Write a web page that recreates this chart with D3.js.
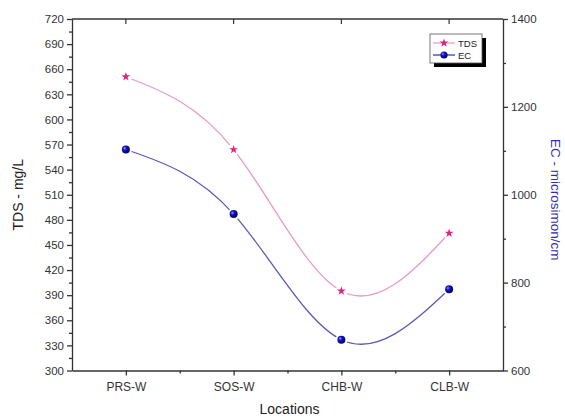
<!DOCTYPE html>
<html>
  <head>
    <script src="https://d3js.org/d3.v7.min.js"></script>
    <style>
      html,
      body {
        margin: 0;
        padding: 0;
        background: #fff;
        font-family: "Liberation Sans", Arial, sans-serif;
      }
    </style>
  </head>
  <body>
    <div id="chart"></div>
    <script>
      // values
      const locations = ["PRS-W", "SOS-W", "CHB-W", "CLB-W"];
      const tds = [651, 564, 395, 464];
      const ec = [1103, 956, 670, 785];
      const tdsTicks = d3.range(300, 721, 30);
      const ecTicks = [600, 800, 1000, 1200, 1400];

      const width = 565;
      const height = 420;
      const plotLeft = 72;
      const plotRight = 503;
      const plotTop = 19;
      const plotBottom = 370.5;
      const axisColor = "#333";
      const tdsLine = "#e99ac6";
      const tdsMark = "#e0207c";
      const ecLine = "#5a5ab8";
      const ecMark = "#1414cc";

      const svg = d3
        .select("#chart")
        .append("svg")
        .attr("width", width)
        .attr("height", height);

      const defs = svg.append("defs");
      const grad = defs
        .append("radialGradient")
        .attr("id", "ball")
        .attr("cx", "35%")
        .attr("cy", "35%")
        .attr("r", "65%");
      grad.append("stop").attr("offset", "0%").attr("stop-color", "#9aa0ff");
      grad.append("stop").attr("offset", "35%").attr("stop-color", ecMark);
      grad.append("stop").attr("offset", "100%").attr("stop-color", "#00006a");

      const x = d3.scaleLinear().domain([-0.5, 3.5]).range([plotLeft, plotRight]);
      const yL = d3.scaleLinear().domain([300, 720]).range([plotBottom, plotTop]);
      const yR = d3.scaleLinear().domain([600, 1400]).range([plotBottom, plotTop]);

      //top frame line with inward ticks
      svg
        .append("line")
        .attr("x1", plotLeft)
        .attr("x2", plotRight)
        .attr("y1", plotTop)
        .attr("y2", plotTop)
        .attr("stroke", axisColor)
        .attr("stroke-width", 1.3);
      svg
        .selectAll(".toptick")
        .data(d3.range(locations.length))
        .enter()
        .append("line")
        .attr("x1", (d) => x(d))
        .attr("x2", (d) => x(d))
        .attr("y1", plotTop)
        .attr("y2", plotTop + 5)
        .attr("stroke", axisColor)
        .attr("stroke-width", 1.2);

      //bottom axis
      const xAxis = svg
        .append("g")
        .attr("transform", `translate(0,${plotBottom})`)
        .call(
          d3
            .axisBottom(x)
            .tickValues(d3.range(locations.length))
            .tickFormat((i) => locations[i])
            .tickSize(5)
            .tickSizeOuter(0)
            .tickPadding(7)
        );
      svg
        .append("g")
        .attr("transform", `translate(0,${plotBottom})`)
        .call(
          d3
            .axisBottom(x)
            .tickValues([0.5, 1.5, 2.5])
            .tickFormat("")
            .tickSize(3)
            .tickSizeOuter(0)
        )
        .select(".domain")
        .remove();

      //left axis
      svg
        .append("g")
        .attr("transform", `translate(${plotLeft},0)`)
        .call(
          d3
            .axisLeft(yL)
            .tickValues(tdsTicks)
            .tickSize(5)
            .tickSizeOuter(0)
            .tickPadding(3)
        );
      svg
        .append("g")
        .attr("transform", `translate(${plotLeft},0)`)
        .call(
          d3
            .axisLeft(yL)
            .tickValues(d3.range(315, 720, 30))
            .tickFormat("")
            .tickSize(3)
            .tickSizeOuter(0)
        )
        .select(".domain")
        .remove();

      //right axis
      svg
        .append("g")
        .attr("transform", `translate(${plotRight},0)`)
        .call(
          d3
            .axisRight(yR)
            .tickValues(ecTicks)
            .tickFormat(d3.format("d"))
            .tickSize(5)
            .tickSizeOuter(0)
            .tickPadding(3)
        );
      svg
        .append("g")
        .attr("transform", `translate(${plotRight},0)`)
        .call(
          d3
            .axisRight(yR)
            .tickValues([700, 900, 1100, 1300])
            .tickFormat("")
            .tickSize(3)
            .tickSizeOuter(0)
        )
        .select(".domain")
        .remove();

      svg
        .selectAll(".domain, .tick line")
        .attr("stroke", axisColor)
        .attr("stroke-width", 1.3);
      svg
        .selectAll(".tick text")
        .attr("fill", "#333")
        .style("font-size", "11.5px")
        .style("font-family", "'Liberation Sans', Arial, sans-serif");
      xAxis.selectAll(".tick text").style("font-size", "12px");

      //axis titles
      const midY = (plotTop + plotBottom) / 2;
      svg
        .append("text")
        .attr("transform", `translate(23,${midY}) rotate(-90)`)
        .attr("text-anchor", "middle")
        .attr("fill", "#222")
        .style("font-size", "14px")
        .text("TDS - mg/L");
      svg
        .append("text")
        .attr("transform", `translate(551,${midY + 5}) rotate(90)`)
        .attr("text-anchor", "middle")
        .attr("fill", "#3030a8")
        .style("font-size", "13.5px")
        .text("EC - microsimon/cm");
      svg
        .append("text")
        .attr("x", (plotLeft + plotRight) / 2 + 2)
        .attr("y", 414)
        .attr("text-anchor", "middle")
        .attr("fill", "#222")
        .style("font-size", "14px")
        .text("Locations");

      //series
      const series = [
        { name: "TDS", values: tds, y: yL, line: tdsLine, mark: tdsMark },
        { name: "EC", values: ec, y: yR, line: ecLine, mark: ecMark },
      ];

      const star = d3.symbol().type(d3.symbolStar).size(24);

      series.forEach((s) => {
        const lineGen = d3
          .line()
          .x((d, i) => x(i))
          .y((d) => s.y(d))
          .curve(d3.curveNatural);
        svg
          .append("path")
          .attr("d", lineGen(s.values))
          .attr("fill", "none")
          .attr("stroke", s.line)
          .attr("stroke-width", 1.3);
      });

      series.forEach((s) => {
        const g = svg.append("g");
        //small white gap round each marker
        g.selectAll(".gap")
          .data(s.values)
          .enter()
          .append("circle")
          .attr("cx", (d, i) => x(i))
          .attr("cy", (d) => s.y(d))
          .attr("r", 6)
          .attr("fill", "#fff");
        if (s.name === "TDS") {
          g.selectAll(".mk")
            .data(s.values)
            .enter()
            .append("path")
            .attr("d", star)
            .attr("transform", (d, i) => `translate(${x(i)},${s.y(d)})`)
            .attr("fill", s.mark);
        } else {
          g.selectAll(".mk")
            .data(s.values)
            .enter()
            .append("circle")
            .attr("cx", (d, i) => x(i))
            .attr("cy", (d) => s.y(d))
            .attr("r", 4)
            .attr("fill", "url(#ball)");
        }
      });

      //legend
      const lg = svg.append("g").attr("transform", "translate(430,34)");
      lg.append("rect")
        .attr("x", 4)
        .attr("y", 4)
        .attr("width", 52)
        .attr("height", 29)
        .attr("fill", "#000");
      lg.append("rect")
        .attr("width", 52)
        .attr("height", 29)
        .attr("fill", "#fff")
        .attr("stroke", "#555")
        .attr("stroke-width", 0.8);
      series.forEach((s, i) => {
        const yy = 9 + i * 12;
        lg.append("line")
          .attr("x1", 3)
          .attr("x2", 25)
          .attr("y1", yy)
          .attr("y2", yy)
          .attr("stroke", s.name === "TDS" ? tdsLine : "#2a2ab0")
          .attr("stroke-width", 1.2);
        if (s.name === "TDS") {
          lg.append("path")
            .attr("d", star)
            .attr("transform", `translate(14,${yy})`)
            .attr("fill", s.mark);
        } else {
          lg.append("circle")
            .attr("cx", 14)
            .attr("cy", yy)
            .attr("r", 3.6)
            .attr("fill", "url(#ball)");
        }
        lg.append("text")
          .attr("x", 28)
          .attr("y", yy + 3.5)
          .attr("fill", "#222")
          .style("font-size", "9.5px")
          .text(s.name);
      });
    </script>
  </body>
</html>
